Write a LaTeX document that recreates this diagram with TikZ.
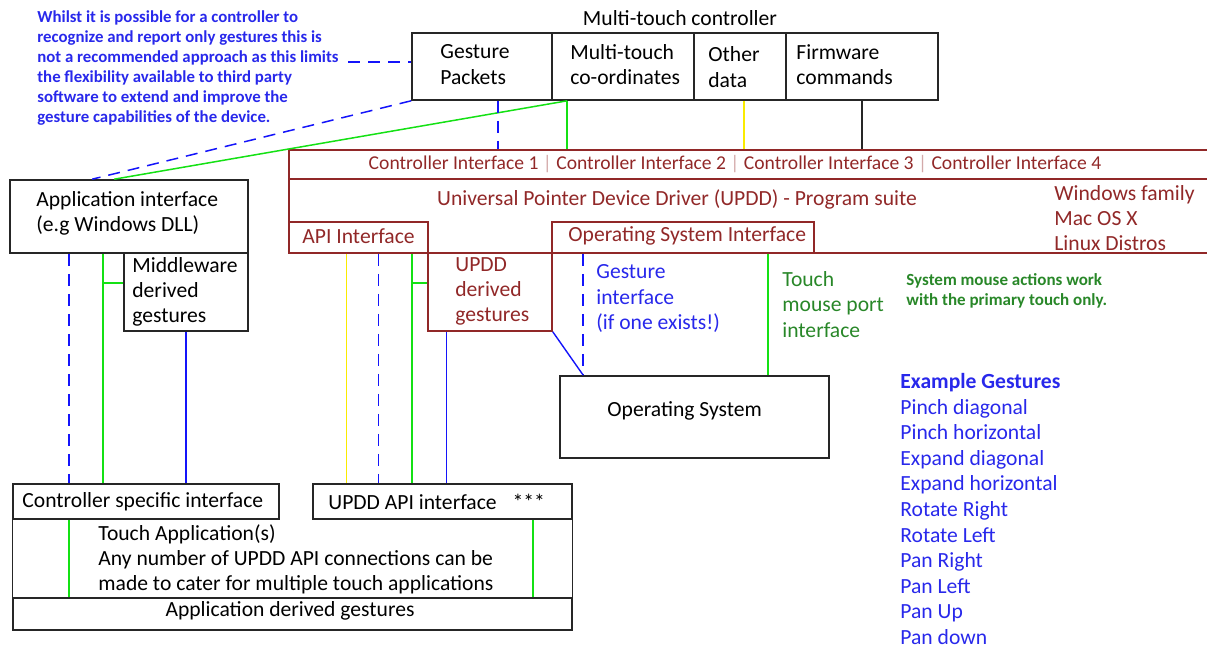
\documentclass[tikz,border=0pt]{standalone}
\usepackage{fontspec}
\setmainfont{Carlito}
\usetikzlibrary{fit}
\definecolor{upddred}{RGB}{145,40,40}
\definecolor{noteblue}{RGB}{40,40,235}
\definecolor{lineblue}{RGB}{20,20,250}
\definecolor{linegreen}{RGB}{20,225,20}
\definecolor{textgreen}{RGB}{40,135,40}
\definecolor{lineyellow}{RGB}{250,235,0}

\begin{document}
\begin{tikzpicture}[x=0.5pt, y=-0.5pt,
        box/.style={draw=black!85, line width=0.8pt, inner sep=0pt},
        redbox/.style={draw=upddred, line width=0.8pt, inner sep=0pt},
        lbl/.style={inner sep=0pt, anchor=west, align=left, font=\fontsize{10.8}{12.6}\selectfont},
        bdash/.style={draw=lineblue, line width=0.75pt, dash pattern=on 6pt off 4pt},
        bline/.style={draw=lineblue, line width=0.7pt},
        gline/.style={draw=linegreen, line width=0.75pt},
        yline/.style={draw=lineyellow, line width=0.75pt},
        kline/.style={draw=black!85, line width=0.7pt}]
    \useasboundingbox (0,0) rectangle (1207,648);
    \clip (0,0) rectangle (1207,648);

    \node[lbl, anchor=center] (title) at (680,18) {Multi-touch controller};
    \node[box, fit={(412,33) (552,100)}] (gp) {};
    \node[box, fit={(552,33) (694,100)}] (mtc) {};
    \node[box, fit={(694,33) (786,100)}] (oth) {};
    \node[box, fit={(786,33) (938,100)}] (fw) {};
    \node[lbl] (gptxt) at (440,64.5) {Gesture\\Packets};
    \node[lbl] (mtctxt) at (570,64.5) {Multi-touch\\co-ordinates};
    \node[lbl] (othtxt) at (708,67) {Other\\data};
    \node[lbl] (fwtxt) at (796,64.5) {Firmware\\commands};

    \node[lbl, text=noteblue, font=\bfseries\fontsize{8.4}{10}\selectfont] (note) at (37,68)
        {Whilst it is possible for a controller to\\
         recognize and report only gestures this is\\
         not a recommended approach as this limits\\
         the flexibility available to third party\\
         software to extend and improve the\\
         gesture capabilities of the device.};
    \coordinate (noteend) at (348,62);

    \node[redbox, fit={(289,150) (1230,179)}] (ci) {};
    \node[redbox, fit={(289,179) (1230,253)}] (updd) {};
    \node[redbox, fit={(289,222) (428,253)}] (api) {};
    \node[redbox, fit={(552,222) (814,253)}] (osi) {};
    \node[redbox, fit={(428,253) (552,331)}] (upddg) {};
    \node[lbl, anchor=center, text=upddred, font=\fontsize{9.8}{11}\selectfont] (citxt) at (735,164)
        {Controller Interface 1 {\color{upddred!40}|} Controller Interface 2 {\color{upddred!40}|}
         Controller Interface 3 {\color{upddred!40}|} Controller Interface 4};
    \node[lbl, anchor=center, text=upddred] (uppdtxt) at (677,199)
        {Universal Pointer Device Driver (UPDD) - Program suite};
    \node[lbl, text=upddred] (ostxt) at (1054,218) {Windows family\\Mac OS X\\Linux Distros};
    \node[lbl, text=upddred] (apitxt) at (302,236) {API Interface};
    \node[lbl, text=upddred] (ositxt) at (568,236) {Operating System Interface};
    \node[lbl, text=upddred] (upddgtxt) at (455,291.5) {UPDD\\derived\\gestures};

    \node[box, fit={(10,180) (248,253)}] (app) {};
    \node[box, fit={(124,253) (248,331)}] (mw) {};
    \node[lbl] (apptxt) at (36,213.5) {Application interface\\(e.g Windows DLL)};
    \node[lbl] (mwtxt) at (132,292) {Middleware\\derived\\gestures};

    \node[lbl, text=noteblue] (gitxt) at (596,298.5) {Gesture\\interface\\(if one exists!)};
    \node[lbl, text=textgreen] (tmtxt) at (782,304.5) {Touch\\mouse port\\interface};
    \node[lbl, text=textgreen, font=\bfseries\fontsize{8.5}{10}\selectfont] (smtxt) at (906,291)
        {System mouse actions work\\with the primary touch only.};

    \node[box, fit={(560,376) (829,458)}] (os) {};
    \node[lbl] (ostxt2) at (607,411) {Operating System};

    \node[lbl, text=noteblue, font=\fontsize{10.8}{12.8}\selectfont] (gestlist) at (900,509)
        {\textbf{Example Gestures}\\Pinch diagonal\\Pinch horizontal\\Expand diagonal\\
         Expand horizontal\\Rotate Right\\Rotate Left\\Pan Right\\Pan Left\\Pan Up\\Pan down};

    \node[box, fit={(13,484) (279,519)}] (csi) {};
    \node[box, fit={(313,484) (572,519)}] (uapi) {};
    \node[inner sep=0pt, fit={(13,519) (572,598)}] (touch) {};
    \node[box, fit={(13,598) (572,630)}] (adg) {};
    \draw[kline, line width=0.8pt] (touch.north west) -- (touch.south west)
        (touch.north east) -- (touch.south east);
    \node[lbl] (csitxt) at (22,502) {Controller specific interface};
    \node[lbl] (uapitxt) at (328,502) {UPDD API interface\hspace{8pt}***};
    \node[lbl] (touchtxt) at (98,559.5)
        {Touch Application(s)\\Any number of UPDD API connections can be\\
         made to cater for multiple touch applications};
    \node[lbl, anchor=center] (adgtxt) at (290,611) {Application derived gestures};

    \coordinate (gpx) at ([xshift=8pt]gp.south);
    \coordinate (mtcx) at ([xshift=8pt]mtc.south west);
    \coordinate (othx) at ([xshift=2pt]oth.south);
    \coordinate (appa) at ([xshift=30pt]app.south west);
    \coordinate (appb) at ([xshift=47pt]app.south west);
    \coordinate (mwb) at ([yshift=4.5pt]mw.west);
    \coordinate (apia) at ([xshift=-6pt]api.south);
    \coordinate (apib) at ([xshift=10pt]api.south);
    \coordinate (apic) at ([xshift=-8.5pt]api.south east);
    \coordinate (ugb) at ([yshift=4.5pt]upddg.west);
    \coordinate (ugc) at ([xshift=9.5pt]upddg.south west);
    \coordinate (osa) at ([xshift=12pt]os.north west);
    \coordinate (osb) at ([xshift=-31pt]os.north east);
    \coordinate (tca) at ([xshift=28.5pt]csi.south west);
    \coordinate (tcb) at ([xshift=-20pt]uapi.south east);

    \draw[bdash] (noteend) -- (noteend -| gp.west);
    \draw[bdash] (gp.south west) -- ([xshift=41.5pt]app.north west);
    \draw[gline] (mtcx) -- ([xshift=52.5pt]app.north west);
    \draw[bdash] (gpx) -- (gpx |- ci.north);
    \draw[gline] (mtcx) -- (mtcx |- ci.north);
    \draw[yline] (othx) -- (othx |- ci.north);
    \draw[kline] (fw.south) -- (fw.south |- ci.north);

    \draw[bdash] (appa) -- (appa |- csi.north);
    \draw[gline] (appb) -- (appb |- csi.north);
    \draw[gline] (mwb) -- (mwb -| appb);
    \draw[bline] (mw.south) -- (mw.south |- csi.north);

    \draw[yline] (apia) -- (apia |- uapi.north);
    \draw[bdash] (apib) -- (apib |- uapi.north);
    \draw[gline] (apic) -- (apic |- uapi.north);
    \draw[gline] (ugb) -- (ugb -| apic);
    \draw[bline] (ugc) -- (ugc |- uapi.north);

    \draw[bline] (upddg.south east) -- (osa);
    \draw[bdash] (osa |- osi.south) -- (osa);
    \draw[gline] (osb |- updd.south) -- (osb);

    \draw[gline] (tca) -- (tca |- adg.north);
    \draw[gline] (tcb) -- (tcb |- adg.north);
\end{tikzpicture}
\end{document}
